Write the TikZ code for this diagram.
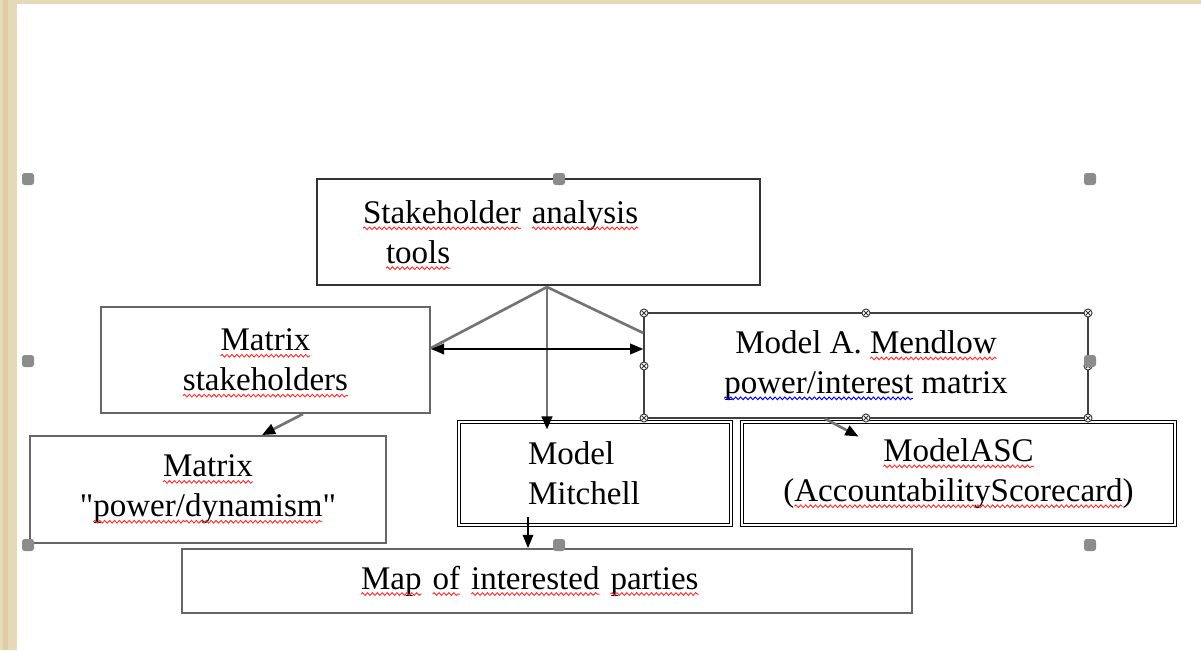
\documentclass[tikz,border=0pt]{standalone}
\usepackage{fontspec}
\setmainfont{Liberation Serif}[Ligatures=TeXOff]
\usetikzlibrary{arrows.meta,decorations.pathmorphing}
\frenchspacing

\definecolor{parch}{HTML}{E6D9B9}

\tikzset{
  box/.style={draw=black!60, line width=1.1pt, fill=white, inner ysep=0pt,
    minimum height=2.12cm, align=center, font=\fontsize{18.8}{22.7}\selectfont},
  dblbox/.style={box, draw=black, line width=0.55pt, double=white,
    double distance=1.1pt, minimum height=2.06cm},
  feed/.style={draw=black!55, line width=1.5pt},
  tip/.style={-{Triangle[length=7.5pt,width=6pt,color=black]}},
  grip/.style={fill=black!45, rounded corners=1.5pt},
  knob/.style={draw=black!80, fill=white, line width=0.5pt},
  word/.style={draw=none, fill=none, inner sep=0pt, outer sep=0pt, minimum width=0pt,
    minimum height=0pt, text width=, align=none}
}

\newcommand{\wv}[2][red!80]{\tikz[baseline=(w.base)]{\node[word] (w) {#2};%
  \draw[overlay, #1, line width=0.55pt, decorate,%
    decoration={snake, amplitude=0.75pt, segment length=2.8pt}]%
    ([yshift=-2.8pt]w.base west) -- ([yshift=-2.8pt]w.base east);}}

\begin{document}
\begin{tikzpicture}[x=0.02cm, y=-0.02cm]
        \useasboundingbox (0,0) rectangle (1201,650);
        \fill[parch] (0,0) rectangle (1201,650);
        \fill[parch!85!brown] (3,0) rectangle (8,650);
        \fill[white] (17,4) rectangle (1201,650);

        \node[box, draw=black!80, minimum width=8.86cm, align=left, text width=7.02cm, inner xsep=0.92cm] (tools) at (538.5,232) {\wv{Stakeholder} \wv{analysis}\\\hspace*{0.46cm}\wv{tools}};
        \node[box, minimum width=6.58cm] (stake) at (265.5,360) {\wv{Matrix}\\\wv{stakeholders}};
        \node[box, draw=black!75, line width=0.8pt, minimum width=8.88cm, minimum height=2.10cm] (mendlow) at (866,365.5) {Model A. \wv{Mendlow}\\\wv[blue]{power/interest} matrix};
        \node[box, minimum width=7.12cm, minimum height=2.14cm] (powdyn) at (208,489.5) {\wv{Matrix}\\"\wv{power/}\wv{dynamism}"};
        \node[dblbox, minimum width=5.44cm, align=left, text width=2.68cm, inner xsep=1.38cm] (mitchell) at (595,473.5) {Model\\Mitchell};
        \node[dblbox, minimum width=8.66cm] (asc) at (958.5,473.5) {\wv{ModelASC}\\(\wv{AccountabilityScorecard})};
        \node[box, minimum width=14.6cm, minimum height=1.28cm, align=left, text width=7.44cm, inner xsep=3.58cm] (map) at (547,581) {\wv{Map} \wv{of} \wv{interested} \wv{parties}};

        \coordinate (apex) at (547,287);
        \coordinate (mid) at ([yshift=0.22cm]stake.east);
        \coordinate (mdrop) at ([xshift=-1.34cm,yshift=0.16cm]mitchell.south);

        \draw[feed] (apex) -- ([yshift=0.24cm]stake.east);
        \draw[feed] (apex) -- ([yshift=0.65cm]mendlow.west);
        \draw[feed, tip, shorten >=-0.16cm] (apex) -- (apex |- mitchell.north);
        \draw[black, line width=1.1pt, {Triangle[length=7.5pt,width=6pt]}-{Triangle[length=7.5pt,width=6pt]}] (mid) -- (mid -| mendlow.west);
        \draw[feed, tip] ([xshift=0.75cm]stake.south) -- ([xshift=1.08cm]powdyn.north);
        \draw[feed, tip] ([xshift=-0.82cm]mendlow.south) -- ([xshift=-2.0cm,yshift=-0.3cm]asc.north);
        \draw[black, line width=0.8pt, tip] (mdrop) -- (mdrop |- map.north);

        \foreach \kx/\ky in {644/313, 866/313, 1088/313, 644/366, 1088/366, 644/418, 866/418, 1088/418} {
            \draw[knob] (\kx,\ky) circle (2.3pt);
            \draw[knob] (\kx,\ky) ++(-2.5,-2.5) -- ++(5,5);
            \draw[knob] (\kx,\ky) ++(-2.5,2.5) -- ++(5,-5);
        }
        \foreach \hx/\hy in {28/179, 559/179, 1090/179, 28/361, 1090/361, 28/545, 559/545, 1090/545}
            \fill[grip] (\hx,\hy) ++(-6,-6) rectangle ++(12,12);

    \end{tikzpicture}
\end{document}
